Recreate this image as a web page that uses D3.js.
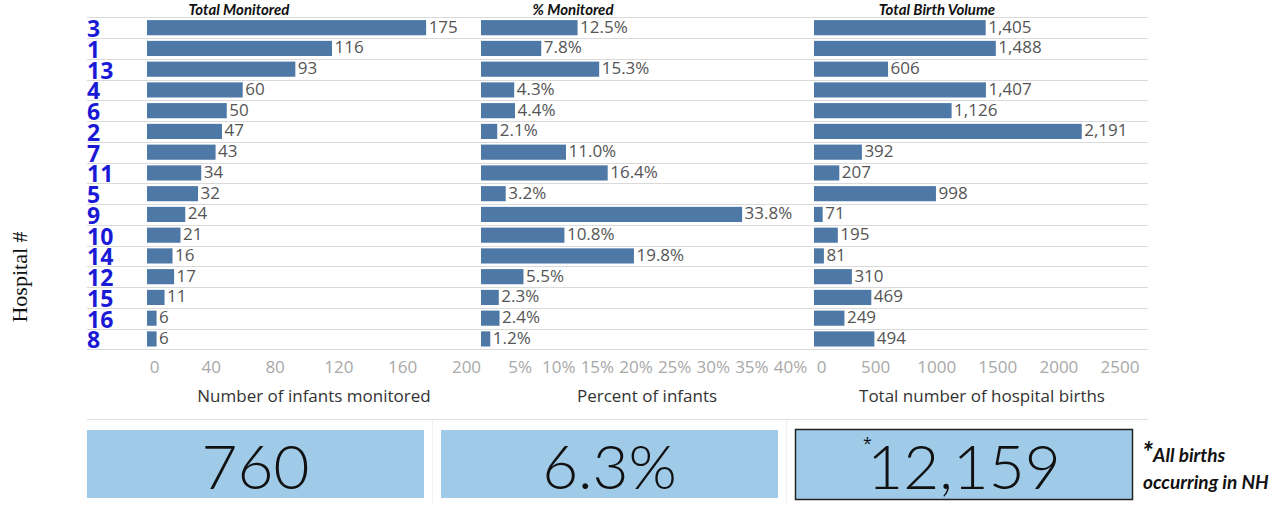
<!DOCTYPE html>
<html>
<head>
<meta charset="utf-8">
<script src="https://cdn.jsdelivr.net/npm/d3@7"></script>
<style>
  html, body { margin: 0; padding: 0; background: #fff; }
  svg { display: block; }
</style>
</head>
<body>
<svg id="chart" width="1283" height="505"></svg>
<script>
// Hospitals in display order
const hospitals = ["3", "1", "13", "4", "6", "2", "7", "11", "5", "9", "10", "14", "12", "15", "16", "8"];
// Number of infants monitored per hospital
const monitored = [175, 116, 93, 60, 50, 47, 43, 34, 32, 24, 21, 16, 17, 11, 6, 6];
// Percent of infants monitored
const pctMonitored = [12.5, 7.8, 15.3, 4.3, 4.4, 2.1, 11.0, 16.4, 3.2, 33.8, 10.8, 19.8, 5.5, 2.3, 2.4, 1.2];
// Total hospital births
const births = [1405, 1488, 606, 1407, 1126, 2191, 392, 207, 998, 71, 195, 81, 310, 469, 249, 494];

const ticksMonitored = [0, 40, 80, 120, 160, 200];
const ticksPct = [5, 10, 15, 20, 25, 30, 35, 40];
const ticksBirths = [0, 500, 1000, 1500, 2000, 2500];

// Summary totals
const totalMonitored = 760;
const totalPct = 6.3;
const totalBirths = 12159;

const svg = d3.select("#chart");
const font = "'Open Sans', 'DejaVu Sans', sans-serif";
const barColor = "#4e79a7";

const rowTop = 17.3, rowBottom = 349.3;
const y = d3.scaleBand().domain(hospitals).range([rowTop, rowBottom])
  .paddingInner(0.27).paddingOuter(0.135);
const step = y.step();

// Row separators
const gridX0 = 87, gridX1 = 1148;
const lines = d3.range(hospitals.length + 1).map(i => rowTop + i * step);
svg.append("g").selectAll("line").data(lines).join("line")
  .attr("x1", gridX0).attr("x2", gridX1)
  .attr("y1", d => Math.round(d) + 0.5).attr("y2", d => Math.round(d) + 0.5)
  .attr("stroke", "#dadada").attr("stroke-width", 1);

// Hospital labels
svg.append("g").selectAll("text").data(hospitals).join("text")
  .attr("x", 87)
  .attr("y", d => y(d) - step * 0.135 + step - 1)
  .attr("font-family", font).attr("font-weight", 700).attr("font-size", 23)
  .attr("fill", "#1a1ad6")
  .text(d => d);

// Y axis title
svg.append("text")
  .attr("transform", "translate(27,277) rotate(-90)")
  .attr("text-anchor", "middle")
  .attr("font-family", "'Liberation Serif', 'DejaVu Serif', serif")
  .attr("font-size", 22).attr("fill", "#111")
  .text("Hospital #");

const panels = [
  { title: "Total Monitored", titleX: 239, values: monitored, domain: [0, 200], range: [147, 466],
    ticks: ticksMonitored, tickFmt: d => d, labelFmt: d => d,
    axisTitle: "Number of infants monitored", axisTitleX: 314 },
  { title: "% Monitored", titleX: 573, values: pctMonitored, domain: [0, 40], range: [481, 790],
    ticks: ticksPct, tickFmt: d => d + "%", labelFmt: d => d.toFixed(1) + "%",
    axisTitle: "Percent of infants", axisTitleX: 647 },
  { title: "Total Birth Volume", titleX: 937, values: births, domain: [0, 2500], range: [814, 1119.5],
    ticks: ticksBirths, tickFmt: d => d, labelFmt: d3.format(","),
    axisTitle: "Total number of hospital births", axisTitleX: 982 }
];

panels.forEach(p => {
  const x = d3.scaleLinear().domain(p.domain).range(p.range);
  const g = svg.append("g");

  // Panel header
  g.append("text")
    .attr("x", p.titleX)
    .attr("y", 15)
    .attr("text-anchor", "middle")
    .attr("font-family", "Lato, 'Open Sans', sans-serif")
    .attr("font-weight", 700).attr("font-style", "italic").attr("font-size", 15)
    .attr("fill", "#111")
    .text(p.title);

  const rows = hospitals.map((h, i) => ({ h, v: p.values[i] }));

  g.selectAll("rect").data(rows).join("rect")
    .attr("x", x(0))
    .attr("y", d => y(d.h))
    .attr("width", d => x(d.v) - x(0))
    .attr("height", y.bandwidth())
    .attr("fill", barColor);

  g.selectAll("text.val").data(rows).join("text")
    .attr("class", "val")
    .attr("x", d => x(d.v) + 2.5)
    .attr("y", d => y(d.h) + y.bandwidth() / 2 - 1.5)
    .attr("dominant-baseline", "central")
    .attr("font-family", font).attr("font-size", 17)
    .attr("fill", "#555")
    .text(d => p.labelFmt(d.v));

  // Axis tick labels
  const axis = d3.axisBottom(x).tickValues(p.ticks).tickFormat(p.tickFmt).tickSize(0).tickPadding(0);
  const ag = g.append("g").attr("transform", "translate(0,361)").call(axis);
  ag.select(".domain").remove();
  ag.selectAll("text")
    .attr("font-family", font).attr("font-size", 17)
    .attr("fill", "#a8a8a8");
  // first label sits just inside the panel edge
  ag.selectAll(".tick").filter(d => d === 0).select("text").attr("dx", 7);

  g.append("text")
    .attr("x", p.axisTitleX)
    .attr("y", 402)
    .attr("text-anchor", "middle")
    .attr("font-family", font).attr("font-size", 17)
    .attr("fill", "#333")
    .text(p.axisTitle);
});

// Summary section
svg.append("line")
  .attr("x1", gridX0).attr("x2", gridX1).attr("y1", 419.5).attr("y2", 419.5)
  .attr("stroke", "#e0e0e0");
[432.5, 786.5].forEach(xv => {
  svg.append("line").attr("x1", xv).attr("x2", xv).attr("y1", 420).attr("y2", 503)
    .attr("stroke", "#f0f0f0");
});

const boxes = [
  { x0: 87, x1: 424, text: String(totalMonitored), border: false },
  { x0: 441, x1: 778, text: totalPct.toFixed(1) + "%", border: false },
  { x0: 795.5, x1: 1132.5, text: d3.format(",")(totalBirths), border: true }
];
boxes.forEach(b => {
  svg.append("rect")
    .attr("x", b.x0).attr("y", b.border ? 429.5 : 430)
    .attr("width", b.x1 - b.x0).attr("height", b.border ? 70 : 68)
    .attr("fill", "#a0cbe8")
    .attr("stroke", b.border ? "#222" : "none")
    .attr("stroke-width", 1.5);
  svg.append("text")
    .attr("x", (b.x0 + b.x1) / 2).attr("y", 489)
    .attr("text-anchor", "middle")
    .attr("font-family", "Lato, 'Open Sans', sans-serif")
    .attr("font-weight", 300).attr("font-size", 62)
    .attr("fill", "#111")
    .text(b.text);
});
svg.append("text")
  .attr("x", 863).attr("y", 449)
  .attr("font-family", font).attr("font-size", 16).attr("fill", "#111")
  .text("*");

// Footnote
const note = svg.append("g").attr("font-family", "Lato, 'Open Sans', sans-serif")
  .attr("font-weight", 700).attr("font-style", "italic").attr("fill", "#111");
const n1 = note.append("text").attr("x", 1142).attr("y", 462);
n1.append("tspan").attr("font-size", 28).text("*");
n1.append("tspan").attr("font-size", 19).text("All births");
note.append("text").attr("x", 1143).attr("y", 489).attr("font-size", 19).text("occurring in NH");
</script>
</body>
</html>
